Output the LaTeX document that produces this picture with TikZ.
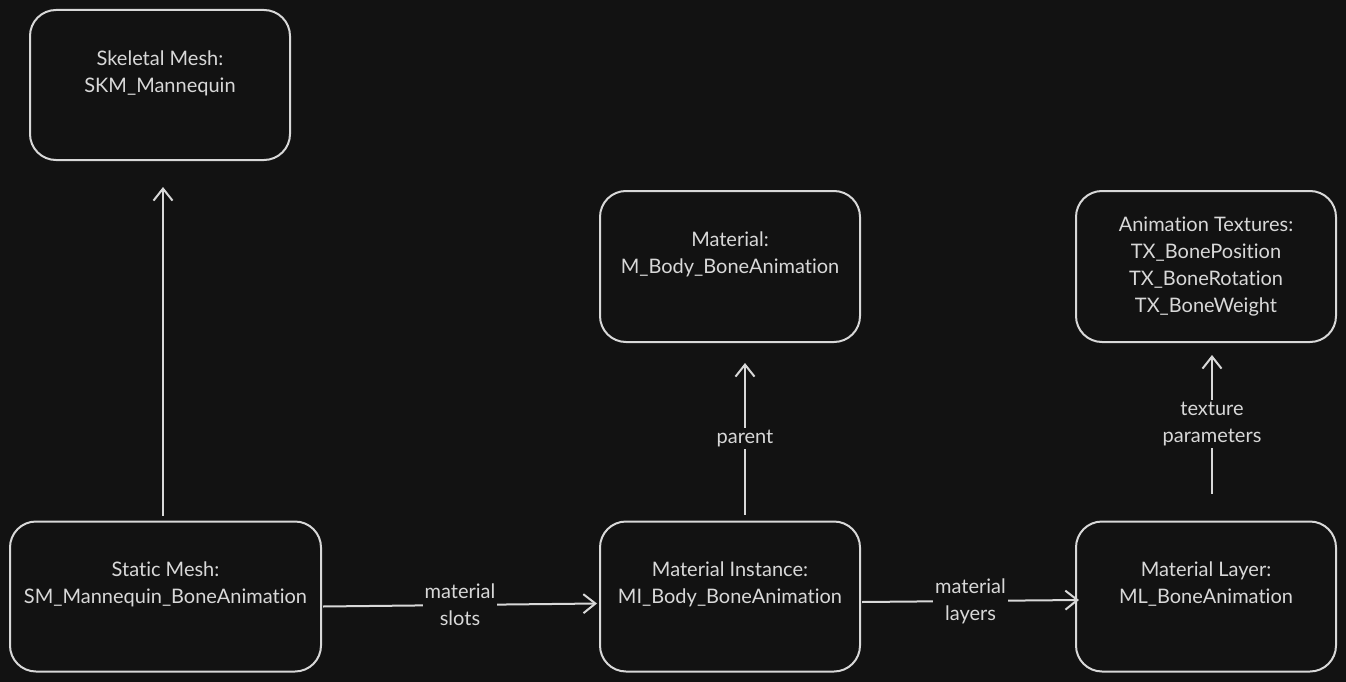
\documentclass[tikz,border=0pt]{standalone}
\usepackage{fontspec}
\setmainfont{Lato}[Ligatures={NoCommon,NoRare}]
\usepackage{xcolor}
\usepackage{tikz}
\usetikzlibrary{arrows.meta,positioning,calc}
\definecolor{bgdark}{HTML}{121212}
\definecolor{inkgray}{HTML}{D8D8D8}
\tikzset{
  asset/.style={draw=inkgray,line width=2pt,rounded corners=26pt,minimum width=260pt,
    minimum height=150pt,align=center,text=inkgray,font=\fontsize{20}{27}\selectfont},
  link/.style={draw=inkgray,line width=2pt,-{Straight Barb[length=12pt,width=19pt,line width=2pt]}},
  linklabel/.style={fill=bgdark,text=inkgray,align=center,inner sep=2pt,font=\fontsize{20}{27}\selectfont}
}

\begin{document}
\begin{tikzpicture}[x=1pt,y=-1pt]
  % Canvas
  \fill[bgdark] (0,0) rectangle (1346,682);
  \useasboundingbox (0,0) rectangle (1346,682);

  % Top row
  \node[asset] (skm) at (160,85) {Skeletal Mesh:\\SKM\_Mannequin\\\mbox{}};
  \node[asset,minimum height=151pt] (mat) at (730,266.5) {Material:\\M\_Body\_BoneAnimation\\\mbox{}};
  \node[asset,minimum height=151pt] (tex) at (1206,266.5) {Animation Textures:\\TX\_BonePosition\\TX\_BoneRotation\\TX\_BoneWeight};

  % Bottom row
  \node[asset,minimum width=311pt] (sm) at (165.5,596.5) {Static Mesh:\\SM\_Mannequin\_BoneAnimation\\\mbox{}};
  \node[asset] (mi) at (730,596.5) {Material Instance:\\MI\_Body\_BoneAnimation\\\mbox{}};
  \node[asset] (ml) at (1206,596.5) {Material Layer:\\ML\_BoneAnimation\\\mbox{}};

  % Links
  \draw[link] ([xshift=-2.5pt,yshift=5pt]sm.north) -- ([xshift=3pt,yshift=-26pt]skm.south);
  \draw[link] ([xshift=1pt,yshift=-10pt]sm.east) -- node[linklabel] (slots) {material\\slots} ([xshift=-2pt,yshift=-7pt]mi.west);
  \draw[link] ([xshift=15pt,yshift=6pt]mi.north) -- node[linklabel] (parent) {parent} ([xshift=15pt,yshift=-20pt]mat.south);
  \draw[link] ([xshift=1pt,yshift=-5.5pt]mi.east) -- node[linklabel] (layers) {material\\layers} ([xshift=4pt,yshift=-3.5pt]ml.west);
  \draw[link] ([xshift=6pt,yshift=27pt]ml.north) -- node[linklabel] (params) {texture\\parameters} ([xshift=6pt,yshift=-12pt]tex.south);
\end{tikzpicture}
\end{document}
